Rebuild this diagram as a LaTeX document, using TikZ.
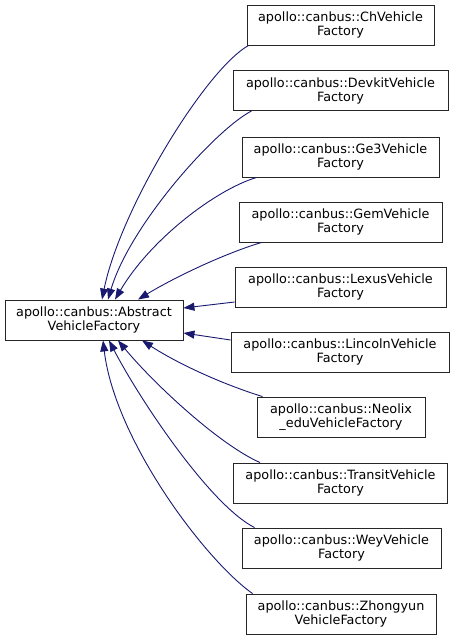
\documentclass[tikz,border=0pt]{standalone}
\usepackage{fontspec}
\setmainfont{DejaVu Sans}
\usetikzlibrary{arrows.meta,calc}
\definecolor{edgeblue}{HTML}{191970}
\begin{document}
\begin{tikzpicture}[x=1pt,y=-1pt,
  cls/.style={draw=black!85,line width=0.9pt,fill=white,minimum height=40pt,inner sep=0pt,align=center,font=\fontsize{12.8}{14}\selectfont},
  inh/.style={draw=edgeblue,line width=0.9pt,-{Triangle[length=11pt,width=8pt]},color=edgeblue}]
\useasboundingbox (0,0) rectangle (455,640);
\node[cls,minimum width=178pt] (abs) at (94,320) {apollo::canbus::Abstract\\VehicleFactory};
\node[cls,minimum width=187pt] (ch) at (340.5,25) {apollo::canbus::ChVehicle\\Factory};
\node[cls,minimum width=215pt] (devkit) at (340.5,90.5) {apollo::canbus::DevkitVehicle\\Factory};
\node[cls,minimum width=197pt] (ge3) at (340.5,157) {apollo::canbus::Ge3Vehicle\\Factory};
\node[cls,minimum width=203pt] (gem) at (340.5,222) {apollo::canbus::GemVehicle\\Factory};
\node[cls,minimum width=211pt] (lexus) at (340.5,287) {apollo::canbus::LexusVehicle\\Factory};
\node[cls,minimum width=218pt] (lincoln) at (340,352) {apollo::canbus::LincolnVehicle\\Factory};
\node[cls,minimum width=168pt] (neolix) at (341,417) {apollo::canbus::Neolix\\\_eduVehicleFactory};
\node[cls,minimum width=214pt] (transit) at (340.5,483) {apollo::canbus::TransitVehicle\\Factory};
\node[cls,minimum width=199pt] (wey) at (341.5,548) {apollo::canbus::WeyVehicle\\Factory};
\node[cls,minimum width=190pt] (zhong) at (341,614) {apollo::canbus::Zhongyun\\VehicleFactory};

\draw[inh] ([xshift=2pt]ch.south west) .. controls (205,70) and (120,210) .. ([xshift=8pt]abs.north);
\draw[inh] ([xshift=19pt]devkit.south west) .. controls (215,130) and (130,225) .. ([xshift=14pt]abs.north);
\draw[inh] ([xshift=15pt]ge3.south west) .. controls (215,190) and (150,240) .. ([xshift=21pt]abs.north);
\draw[inh] ([xshift=23pt]gem.south west) .. controls (220,255) and (170,280) .. ([xshift=44pt]abs.north);
\draw[inh] ([yshift=-15pt]lexus.west) -- ([yshift=12pt]abs.east);
\draw[inh] ([yshift=12pt]lincoln.west) -- ([yshift=-13pt]abs.east);
\draw[inh] ([xshift=6pt]neolix.north west) .. controls (225,385) and (180,365) .. ([xshift=48pt]abs.south);
\draw[inh] ([xshift=27pt]transit.north west) .. controls (220,445) and (155,385) .. ([xshift=24pt]abs.south);
\draw[inh] ([xshift=13pt]wey.north west) .. controls (210,505) and (140,400) .. ([xshift=15pt]abs.south);
\draw[inh] ([xshift=7pt]zhong.north west) .. controls (205,560) and (115,440) .. ([xshift=9pt]abs.south);
\end{tikzpicture}
\end{document}
